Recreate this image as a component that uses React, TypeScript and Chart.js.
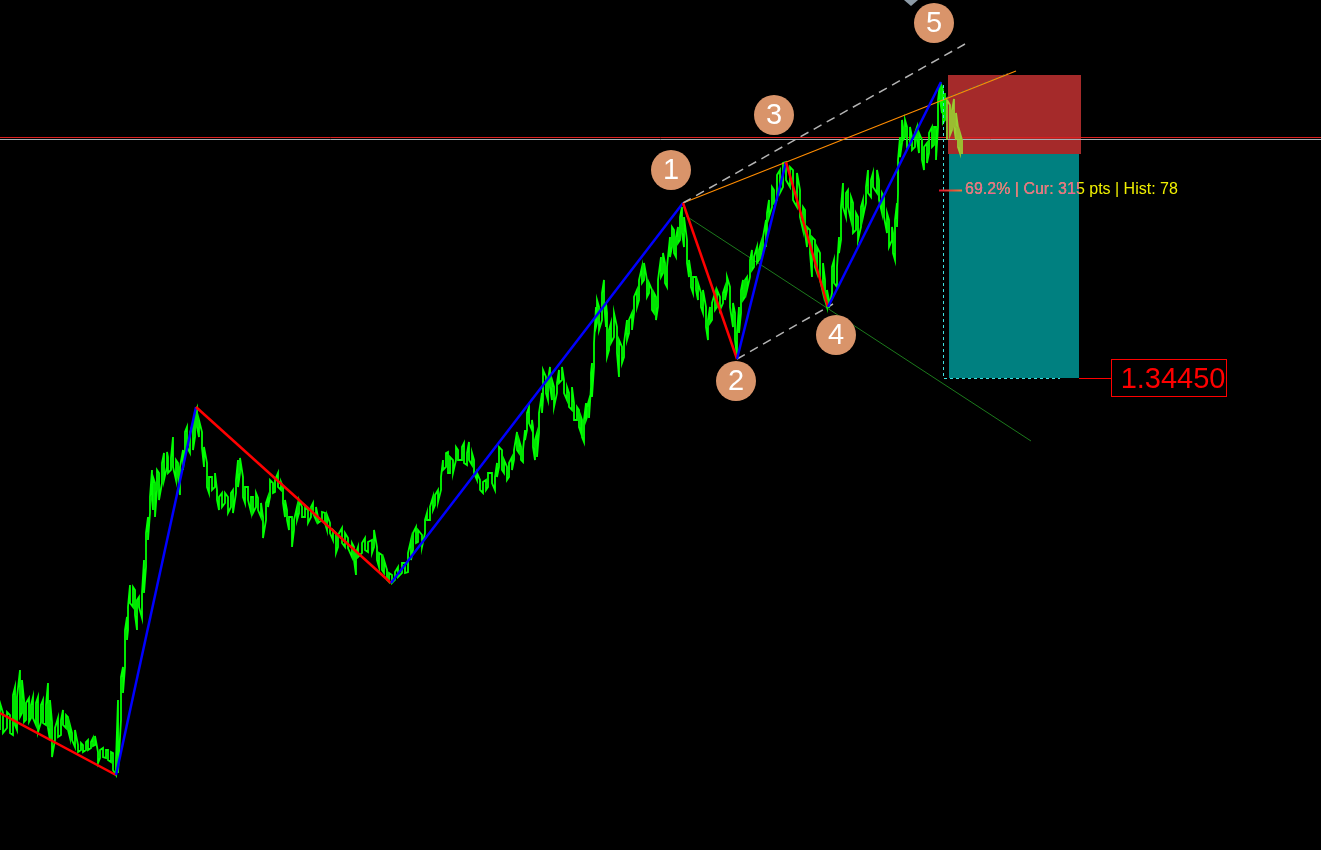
import React, { useEffect, useRef } from "react";
import { Chart, registerables } from "chart.js";

Chart.register(...registerables);

const W = 1321;
const H = 850;

// ---- price bars (bar position, high, low) ----
const barX = [
  0, 3, 7, 10, 13, 15, 17, 20, 22, 24, 26, 29, 31, 33, 36, 38, 41, 43, 46, 48, 50, 52, 55, 58, 61, 63, 66, 68, 70, 72, 75, 78,
  81, 83, 86, 88, 91, 93, 95, 98, 100, 103, 106, 108, 111, 113, 116, 118, 121, 123, 125, 127, 128, 130, 133, 135, 137, 139, 142, 144, 146, 148,
  150, 152, 153, 155, 157, 159, 162, 164, 167, 168, 171, 173, 176, 178, 180, 183, 185, 187, 190, 193, 195, 197, 199, 202, 204, 207, 209, 212, 215, 217,
  219, 222, 225, 228, 231, 233, 236, 238, 240, 243, 245, 248, 251, 253, 256, 258, 261, 263, 266, 268, 270, 273, 275, 278, 281, 283, 285, 287, 289, 292,
  294, 297, 299, 302, 305, 308, 311, 313, 316, 318, 322, 325, 327, 330, 333, 336, 338, 342, 345, 348, 352, 354, 356, 358, 362, 365, 368, 372, 374, 377,
  379, 382, 384, 387, 389, 392, 395, 398, 402, 405, 408, 411, 413, 416, 418, 422, 425, 427, 430, 433, 435, 438, 441, 443, 446, 448, 450, 453, 456, 458,
  462, 464, 467, 469, 472, 474, 477, 480, 483, 486, 488, 492, 495, 497, 499, 502, 504, 507, 509, 512, 514, 517, 519, 521, 523, 525, 527, 529, 532, 533,
  535, 537, 539, 542, 543, 546, 548, 550, 552, 554, 557, 559, 562, 564, 567, 569, 572, 574, 577, 579, 581, 582, 584, 586, 587, 589, 591, 592, 594, 596,
  597, 599, 602, 604, 606, 607, 609, 611, 614, 617, 619, 622, 624, 627, 629, 632, 634, 637, 639, 642, 644, 647, 649, 652, 654, 656, 658, 661, 663, 665,
  667, 670, 672, 674, 676, 678, 680, 682, 684, 687, 689, 691, 693, 696, 698, 701, 703, 706, 708, 710, 712, 715, 717, 720, 723, 725, 727, 730, 733, 735,
  737, 739, 741, 743, 745, 747, 750, 752, 754, 757, 759, 761, 763, 766, 767, 769, 772, 774, 777, 780, 783, 786, 790, 793, 797, 800, 803, 805, 807, 810,
  812, 815, 817, 820, 823, 825, 827, 829, 832, 834, 837, 839, 841, 843, 846, 848, 851, 853, 856, 858, 861, 863, 866, 868, 871, 873, 877, 879, 882, 884,
  887, 889, 892, 893, 895, 897, 898, 900, 902, 903, 905, 907, 910, 912, 915, 917, 919, 922, 924, 927, 929, 932, 934, 936, 938, 940, 942, 943, 945,
];

const barHigh = [
  1.34126, 1.34116, 1.34117, 1.34114, 1.34134, 1.34142, 1.34132, 1.34159, 1.34149, 1.34129, 1.34126, 1.34131, 1.34124, 1.34132, 1.34126, 1.34132,
  1.34124, 1.34129, 1.34124, 1.34146, 1.34129, 1.34107, 1.34101, 1.34111, 1.34109, 1.34119, 1.34114, 1.34112, 1.34104, 1.34096, 1.34099, 1.34084,
  1.34086, 1.34084, 1.34087, 1.34089, 1.34087, 1.34091, 1.34093, 1.34077, 1.34079, 1.34081, 1.34079, 1.34079, 1.34077, 1.34076, 1.34069, 1.34129,
  1.34152, 1.34162, 1.34199, 1.34212, 1.34222, 1.34244, 1.34242, 1.34239, 1.34229, 1.34232, 1.34236, 1.34269, 1.34296, 1.34312, 1.34332, 1.34359,
  1.34352, 1.34346, 1.34359, 1.34356, 1.34366, 1.34376, 1.34377, 1.34372, 1.34371, 1.34392, 1.34369, 1.34366, 1.34362, 1.34379, 1.34397, 1.34402,
  1.34396, 1.34406, 1.34416, 1.34421, 1.34409, 1.34397, 1.34382, 1.34366, 1.34352, 1.34352, 1.34356, 1.34339, 1.34332, 1.34336, 1.34336, 1.34332,
  1.34336, 1.34339, 1.34349, 1.34369, 1.34371, 1.34352, 1.34342, 1.34342, 1.34332, 1.34332, 1.34336, 1.34331, 1.34326, 1.34312, 1.34326, 1.34332,
  1.34349, 1.34346, 1.34349, 1.34356, 1.34347, 1.34342, 1.34329, 1.34319, 1.34312, 1.34312, 1.34309, 1.34322, 1.34329, 1.34322, 1.34322, 1.34319,
  1.34322, 1.34326, 1.34322, 1.34312, 1.34317, 1.34316, 1.34314, 1.34306, 1.34299, 1.34296, 1.34294, 1.34301, 1.34296, 1.34291, 1.34286, 1.34282,
  1.34276, 1.34282, 1.34286, 1.34291, 1.34287, 1.34289, 1.34299, 1.34282, 1.34276, 1.34274, 1.34269, 1.34259, 1.34256, 1.34254, 1.34257, 1.34262,
  1.34266, 1.34266, 1.34276, 1.34289, 1.34296, 1.34302, 1.34299, 1.34294, 1.34309, 1.34316, 1.34322, 1.34332, 1.34334, 1.34339, 1.34352, 1.34369,
  1.34376, 1.34377, 1.34372, 1.34369, 1.34382, 1.34379, 1.34382, 1.34386, 1.34376, 1.34387, 1.34376, 1.34369, 1.34356, 1.34349, 1.34347, 1.34349,
  1.34356, 1.34356, 1.34352, 1.34366, 1.34382, 1.34379, 1.34369, 1.34362, 1.34366, 1.34372, 1.34379, 1.34397, 1.34389, 1.34382, 1.34379, 1.34399,
  1.34416, 1.34422, 1.34409, 1.34402, 1.34389, 1.34396, 1.34416, 1.34436, 1.34459, 1.34452, 1.34449, 1.34462, 1.34449, 1.34442, 1.34446, 1.34459,
  1.34462, 1.34449, 1.34442, 1.34436, 1.34442, 1.34426, 1.34422, 1.34419, 1.34412, 1.34409, 1.34409, 1.34426, 1.34422, 1.34429, 1.34456, 1.34466,
  1.34486, 1.34522, 1.34529, 1.34522, 1.34536, 1.34549, 1.34526, 1.34516, 1.34499, 1.34506, 1.34516, 1.34502, 1.34489, 1.34482, 1.34486, 1.34509,
  1.34509, 1.34516, 1.34532, 1.34539, 1.34549, 1.34562, 1.34566, 1.34549, 1.34546, 1.34539, 1.34536, 1.34532, 1.34549, 1.34572, 1.34576, 1.34566,
  1.34562, 1.34592, 1.34602, 1.34599, 1.34592, 1.34602, 1.34612, 1.34622, 1.34612, 1.34589, 1.34569, 1.34556, 1.34552, 1.34552, 1.34546, 1.34536,
  1.34539, 1.34522, 1.34509, 1.34522, 1.34526, 1.34536, 1.34539, 1.34532, 1.34536, 1.34542, 1.34552, 1.34542, 1.34526, 1.34516, 1.34496, 1.34522,
  1.34539, 1.34549, 1.34549, 1.34552, 1.34569, 1.34579, 1.34572, 1.34582, 1.34579, 1.34586, 1.34592, 1.34609, 1.34616, 1.34629, 1.34642, 1.34639,
  1.34654, 1.34659, 1.34666, 1.34667, 1.34662, 1.34659, 1.34656, 1.34639, 1.34622, 1.34619, 1.34602, 1.34599, 1.34592, 1.34589, 1.34582, 1.34576,
  1.34566, 1.34549, 1.34539, 1.34529, 1.34562, 1.34569, 1.34562, 1.34592, 1.34622, 1.34646, 1.34636, 1.34639, 1.34632, 1.34626, 1.34616, 1.34612,
  1.34622, 1.34629, 1.34642, 1.34659, 1.34649, 1.34656, 1.34659, 1.34649, 1.34636, 1.34632, 1.34616, 1.34609, 1.34602, 1.34596, 1.34609, 1.34626,
  1.34669, 1.34692, 1.34709, 1.34702, 1.34709, 1.34702, 1.34702, 1.34692, 1.34696, 1.34702, 1.34696, 1.34689, 1.34682, 1.34686, 1.34696, 1.34702,
  1.34702, 1.34702, 1.34729, 1.34746, 1.34742, 1.34739, 1.34736,
];

const barLow = [
  1.34099, 1.34096, 1.34101, 1.34096, 1.34094, 1.34104, 1.34099, 1.34112, 1.34116, 1.34107, 1.34109, 1.34107, 1.34111, 1.34111, 1.34104, 1.34097,
  1.34107, 1.34106, 1.34104, 1.34101, 1.34089, 1.34072, 1.34089, 1.34092, 1.34094, 1.34104, 1.34101, 1.34099, 1.34091, 1.34089, 1.34082, 1.34077,
  1.34079, 1.34077, 1.34079, 1.34079, 1.34081, 1.34083, 1.34084, 1.34066, 1.34071, 1.34072, 1.34071, 1.34069, 1.34067, 1.34059, 1.34054, 1.34056,
  1.34109, 1.34136, 1.34162, 1.34189, 1.34199, 1.34226, 1.34222, 1.34214, 1.34199, 1.34222, 1.34211, 1.34236, 1.34262, 1.34289, 1.34316, 1.34329,
  1.34319, 1.34312, 1.34339, 1.34329, 1.34346, 1.34349, 1.34362, 1.34356, 1.34359, 1.34362, 1.34349, 1.34352, 1.34334, 1.34359, 1.34379, 1.34382,
  1.34376, 1.34379, 1.34392, 1.34402, 1.34392, 1.34381, 1.34362, 1.34342, 1.34336, 1.34339, 1.34342, 1.34329, 1.34319, 1.34322, 1.34326, 1.34316,
  1.34322, 1.34316, 1.34336, 1.34342, 1.34356, 1.34332, 1.34326, 1.34329, 1.34317, 1.34316, 1.34322, 1.34319, 1.34312, 1.34291, 1.34309, 1.34322,
  1.34332, 1.34336, 1.34337, 1.34342, 1.34339, 1.34326, 1.34312, 1.34309, 1.34299, 1.34282, 1.34299, 1.34309, 1.34316, 1.34312, 1.34312, 1.34306,
  1.34312, 1.34316, 1.34309, 1.34306, 1.34309, 1.34306, 1.34299, 1.34296, 1.34289, 1.34276, 1.34282, 1.34286, 1.34282, 1.34281, 1.34272, 1.34269,
  1.34254, 1.34272, 1.34276, 1.34279, 1.34277, 1.34276, 1.34282, 1.34269, 1.34262, 1.34259, 1.34256, 1.34249, 1.34247, 1.34246, 1.34249, 1.34252,
  1.34256, 1.34256, 1.34257, 1.34269, 1.34279, 1.34286, 1.34287, 1.34282, 1.34296, 1.34309, 1.34309, 1.34319, 1.34324, 1.34327, 1.34339, 1.34359,
  1.34362, 1.34356, 1.34356, 1.34356, 1.34369, 1.34369, 1.34369, 1.34366, 1.34364, 1.34369, 1.34364, 1.34356, 1.34349, 1.34339, 1.34336, 1.34339,
  1.34342, 1.34346, 1.34339, 1.34352, 1.34362, 1.34359, 1.34356, 1.34349, 1.34352, 1.34359, 1.34369, 1.34379, 1.34376, 1.34369, 1.34367, 1.34389,
  1.34399, 1.34406, 1.34399, 1.34382, 1.34369, 1.34372, 1.34396, 1.34416, 1.34429, 1.34436, 1.34429, 1.34442, 1.34429, 1.34422, 1.34436, 1.34446,
  1.34449, 1.34436, 1.34429, 1.34422, 1.34419, 1.34409, 1.34409, 1.34402, 1.34396, 1.34392, 1.34387, 1.34409, 1.34412, 1.34411, 1.34442, 1.34432,
  1.34462, 1.34502, 1.34506, 1.34499, 1.34509, 1.34526, 1.34502, 1.34472, 1.34479, 1.34486, 1.34492, 1.34476, 1.34452, 1.34466, 1.34472, 1.34489,
  1.34496, 1.34499, 1.34516, 1.34522, 1.34529, 1.34546, 1.34549, 1.34532, 1.34536, 1.34519, 1.34516, 1.34509, 1.34522, 1.34552, 1.34556, 1.34546,
  1.34542, 1.34572, 1.34582, 1.34576, 1.34572, 1.34586, 1.34589, 1.34596, 1.34582, 1.34566, 1.34552, 1.34542, 1.34536, 1.34539, 1.34529, 1.34522,
  1.34516, 1.34502, 1.34489, 1.34506, 1.34509, 1.34519, 1.34522, 1.34519, 1.34526, 1.34529, 1.34539, 1.34522, 1.34502, 1.34489, 1.34472, 1.34496,
  1.34516, 1.34529, 1.34532, 1.34539, 1.34552, 1.34559, 1.34562, 1.34566, 1.34569, 1.34572, 1.34576, 1.34582, 1.34599, 1.34612, 1.34622, 1.34626,
  1.34629, 1.34636, 1.34642, 1.34649, 1.34642, 1.34629, 1.34622, 1.34612, 1.34599, 1.34596, 1.34582, 1.34576, 1.34552, 1.34562, 1.34556, 1.34549,
  1.34536, 1.34529, 1.34522, 1.34521, 1.34536, 1.34546, 1.34542, 1.34576, 1.34589, 1.34622, 1.34612, 1.34622, 1.34609, 1.34596, 1.34599, 1.34589,
  1.34602, 1.34612, 1.34626, 1.34636, 1.34632, 1.34642, 1.34636, 1.34629, 1.34616, 1.34612, 1.34596, 1.34582, 1.34589, 1.34576, 1.34569, 1.34602,
  1.34636, 1.34672, 1.34686, 1.34689, 1.34692, 1.34682, 1.34684, 1.34679, 1.34682, 1.34689, 1.34676, 1.34669, 1.34659, 1.34666, 1.34676, 1.34682,
  1.34684, 1.34669, 1.34702, 1.34729, 1.34716, 1.34706, 1.34709,
];

// latest (current) bars
const tailX = [947, 950, 952, 954, 956, 958, 960, 962];
const tailHigh = [1.34729, 1.34724, 1.34719, 1.3473, 1.34716, 1.34702, 1.34696, 1.34689];
const tailLow = [1.34689, 1.34694, 1.34699, 1.34702, 1.34689, 1.34682, 1.34676, 1.34675];

// zigzag swing points
const waveX = [0, 116, 196, 391, 683, 737, 786, 828, 941];
const wavePrice = [1.34116, 1.34054, 1.34422, 1.34246, 1.34626, 1.3447, 1.34667, 1.34522, 1.34747];

// Elliott wave labels
const badgeLabels = ["1", "2", "3", "4", "5"];
const badgeX = [671, 736, 774, 836, 934];
const badgePrice = [1.34659, 1.34448, 1.34714, 1.34494, 1.34806];

// trend / channel lines
const upperChannelX = [683, 965];
const upperChannelPrice = [1.34626, 1.34785];
const lowerChannelX = [737, 833];
const lowerChannelPrice = [1.3447, 1.34525];
const trendX = [683, 1016];
const trendPrice = [1.34626, 1.34758];
const projX = [947, 1008];
const projPrice = [1.34731, 1.34755];
const fanX = [686, 1031];
const fanPrice = [1.34613, 1.34388];

// horizontal levels
const askPrice = 1.34692;
const bidPrice = 1.3469;

// trade boxes
const slBoxX = [948, 1081];
const slBoxPrice = [1.34754, 1.34675];
const tpBoxX = [949, 1079];
const tpBoxPrice = [1.34675, 1.34451];
const entryX = 943;
const entryPrice = [1.34744, 1.34451];
const entryEndX = 1060;
const targetPrice = 1.3445;
const targetLabel = "1.34450";
const infoX = 965;
const infoPrice = 1.34639;
const infoText = "69.2% | Cur: 315 pts | Hist: 78";

const Y_MIN = 1.33979;
const Y_MAX = 1.34829;

const FONT = '"Liberation Sans", Arial, sans-serif';

function pairLine(xs: number[], ys: number[]) {
  return xs.map((x, i) => ({ x, y: ys[i] }));
}

function barPath(xs: number[], hi: number[], lo: number[]) {
  const pts: { x: number; y: number }[] = [];
  const n = Math.min(xs.length, hi.length, lo.length);
  for (let i = 0; i < n; i++) {
    const a = { x: xs[i], y: lo[i] };
    const b = { x: xs[i], y: hi[i] };
    if (i % 2 === 0) pts.push(a, b);
    else pts.push(b, a);
  }
  return pts;
}

const overlayPlugin = {
  id: "overlay",
  beforeDraw(chart: any) {
    const { ctx } = chart;
    ctx.save();
    ctx.fillStyle = "#000000";
    ctx.fillRect(0, 0, chart.width, chart.height);
    ctx.restore();
  },
  beforeDatasetsDraw(chart: any) {
    const { ctx, scales } = chart;
    const xs = scales.x;
    const ys = scales.y;
    ctx.save();
    // SL box
    const sx0 = xs.getPixelForValue(slBoxX[0]);
    const sx1 = xs.getPixelForValue(slBoxX[1]);
    const sy0 = ys.getPixelForValue(slBoxPrice[0]);
    const sy1 = ys.getPixelForValue(slBoxPrice[1]);
    ctx.fillStyle = "#A52A2A";
    ctx.fillRect(sx0, sy0, sx1 - sx0, sy1 - sy0);
    // TP box
    const tx0 = xs.getPixelForValue(tpBoxX[0]);
    const tx1 = xs.getPixelForValue(tpBoxX[1]);
    const ty0 = ys.getPixelForValue(tpBoxPrice[0]);
    const ty1 = ys.getPixelForValue(tpBoxPrice[1]);
    ctx.fillStyle = "#008080";
    ctx.fillRect(tx0, ty0, tx1 - tx0, ty1 - ty0);
    // horizontal price lines
    const ay = Math.round(ys.getPixelForValue(askPrice)) + 0.5;
    const by = Math.round(ys.getPixelForValue(bidPrice)) + 0.5;
    ctx.lineWidth = 1;
    ctx.strokeStyle = "#DC1E1E";
    ctx.beginPath();
    ctx.moveTo(0, ay);
    ctx.lineTo(chart.width, ay);
    ctx.stroke();
    ctx.strokeStyle = "#A8AEB4";
    ctx.beginPath();
    ctx.moveTo(0, by);
    ctx.lineTo(chart.width, by);
    ctx.stroke();
    ctx.restore();
  },
  afterDatasetsDraw(chart: any) {
    const { ctx, scales } = chart;
    const xs = scales.x;
    const ys = scales.y;
    ctx.save();

    // entry dashed marker
    const ex = Math.round(xs.getPixelForValue(entryX)) + 0.5;
    const ey0 = ys.getPixelForValue(entryPrice[0]);
    const ey1 = Math.round(ys.getPixelForValue(entryPrice[1])) + 0.5;
    const eEnd = xs.getPixelForValue(entryEndX);
    ctx.strokeStyle = "#3FE0E0";
    ctx.lineWidth = 1;
    ctx.setLineDash([3, 3]);
    ctx.beginPath();
    ctx.moveTo(ex, ey0);
    ctx.lineTo(ex, ey1);
    ctx.lineTo(eEnd, ey1);
    ctx.stroke();
    ctx.setLineDash([]);

    // target label
    const tpx1 = xs.getPixelForValue(tpBoxX[1]);
    const py = Math.round(ys.getPixelForValue(targetPrice));
    const cy = Math.round(ys.getPixelForValue(tpBoxPrice[1])) + 0.5;
    const boxL = 1111.5;
    const boxR = 1226.5;
    ctx.strokeStyle = "#FF0000";
    ctx.lineWidth = 1;
    ctx.beginPath();
    ctx.moveTo(tpx1, cy);
    ctx.lineTo(boxL, cy);
    ctx.stroke();
    ctx.strokeRect(boxL, py - 19.5, boxR - boxL, 37);
    ctx.fillStyle = "#FF0000";
    ctx.font = `29px ${FONT}`;
    ctx.textAlign = "right";
    ctx.textBaseline = "middle";
    ctx.fillText(targetLabel, boxR - 1, py + 0.5);

    // info text
    const iy = ys.getPixelForValue(infoPrice);
    const ix = xs.getPixelForValue(infoX);
    const grad = ctx.createLinearGradient(ix - 26, 0, ix - 3, 0);
    grad.addColorStop(0, "#E0102A");
    grad.addColorStop(1, "#F07A3A");
    ctx.strokeStyle = grad;
    ctx.lineWidth = 2;
    ctx.beginPath();
    ctx.moveTo(ix - 26, Math.round(iy) + 0.5);
    ctx.lineTo(ix - 3, Math.round(iy) + 0.5);
    ctx.stroke();
    ctx.font = `16px ${FONT}`;
    ctx.textAlign = "left";
    ctx.textBaseline = "middle";
    ctx.fillStyle = "#F0F000";
    ctx.fillText(infoText, ix, iy);
    const tx0 = xs.getPixelForValue(tpBoxX[0]);
    const ty0 = ys.getPixelForValue(tpBoxPrice[0]);
    const ty1 = ys.getPixelForValue(tpBoxPrice[1]);
    ctx.save();
    ctx.beginPath();
    ctx.rect(tx0, ty0, tpx1 - tx0, ty1 - ty0);
    ctx.clip();
    ctx.fillStyle = "#E8609E";
    ctx.fillText(infoText, ix, iy);
    ctx.restore();

    // wave badges
    ctx.font = `29px ${FONT}`;
    ctx.textAlign = "center";
    ctx.textBaseline = "middle";
    for (let i = 0; i < badgeLabels.length; i++) {
      const bx = xs.getPixelForValue(badgeX[i]);
      const by = ys.getPixelForValue(badgePrice[i]);
      ctx.fillStyle = "#D9946A";
      ctx.beginPath();
      ctx.arc(bx, by, 20, 0, Math.PI * 2);
      ctx.fill();
      ctx.fillStyle = "#FFFFFF";
      ctx.fillText(badgeLabels[i], bx, by + 1);
    }

    // small marker at top
    ctx.fillStyle = "#8C9AA6";
    ctx.beginPath();
    ctx.moveTo(904, 0);
    ctx.lineTo(918, 0);
    ctx.lineTo(911, 6);
    ctx.closePath();
    ctx.fill();

    ctx.restore();
  },
};

export default function App() {
  const canvasRef = useRef<HTMLCanvasElement | null>(null);

  useEffect(() => {
    document.body.style.margin = "0";
    document.body.style.background = "#000";
    const canvas = canvasRef.current;
    if (!canvas) return;

    const blue = "#0000FF";
    const red = "#FF0000";

    const chart = new Chart(canvas, {
      type: "line",
      data: {
        datasets: [
          {
            label: "wave",
            data: pairLine(waveX, wavePrice),
            borderWidth: 2.5,
            borderColor: red,
            segment: {
              borderColor: (c: any) => (c.p1.parsed.y > c.p0.parsed.y ? blue : red),
            },
            pointRadius: 0,
            order: 1,
          } as any,
          {
            label: "current",
            data: barPath(tailX, tailHigh, tailLow),
            borderColor: "#9ACD32",
            borderWidth: 1.8,
            pointRadius: 0,
            order: 3,
          },
          {
            label: "price",
            data: barPath(barX, barHigh, barLow),
            borderColor: "#00FF00",
            borderWidth: 1.8,
            pointRadius: 0,
            order: 4,
          },
          {
            label: "upper channel",
            data: pairLine(upperChannelX, upperChannelPrice),
            borderColor: "#B4B4B4",
            borderWidth: 1.5,
            borderDash: [9, 6],
            pointRadius: 0,
            order: 2,
          },
          {
            label: "lower channel",
            data: pairLine(lowerChannelX, lowerChannelPrice),
            borderColor: "#B4B4B4",
            borderWidth: 1.5,
            borderDash: [9, 6],
            pointRadius: 0,
            order: 2,
          },
          {
            label: "trend",
            data: pairLine(trendX, trendPrice),
            borderColor: "#FF8C00",
            borderWidth: 1.2,
            pointRadius: 0,
            order: 2,
          },
          {
            label: "projection",
            data: pairLine(projX, projPrice),
            borderColor: "#5A5A5A",
            borderWidth: 2,
            borderDash: [2, 2],
            pointRadius: 0,
            order: 2,
          },
          {
            label: "fan",
            data: pairLine(fanX, fanPrice),
            borderColor: "#1C7A1C",
            borderWidth: 1,
            pointRadius: 0,
            order: 5,
          },
        ],
      },
      options: {
        animation: false,
        responsive: false,
        devicePixelRatio: 1,
        events: [],
        layout: { padding: 0 },
        elements: { line: { tension: 0 }, point: { radius: 0 } },
        plugins: { legend: { display: false }, tooltip: { enabled: false } },
        scales: {
          x: { type: "linear", min: 0, max: W, display: false },
          y: { type: "linear", min: Y_MIN, max: Y_MAX, display: false },
        },
      },
      plugins: [overlayPlugin],
    } as any);

    return () => chart.destroy();
  }, []);

  return (
    <div style={{ position: "fixed", left: 0, top: 0, width: W, height: H, background: "#000" }}>
      <canvas ref={canvasRef} width={W} height={H} style={{ display: "block" }} />
    </div>
  );
}
